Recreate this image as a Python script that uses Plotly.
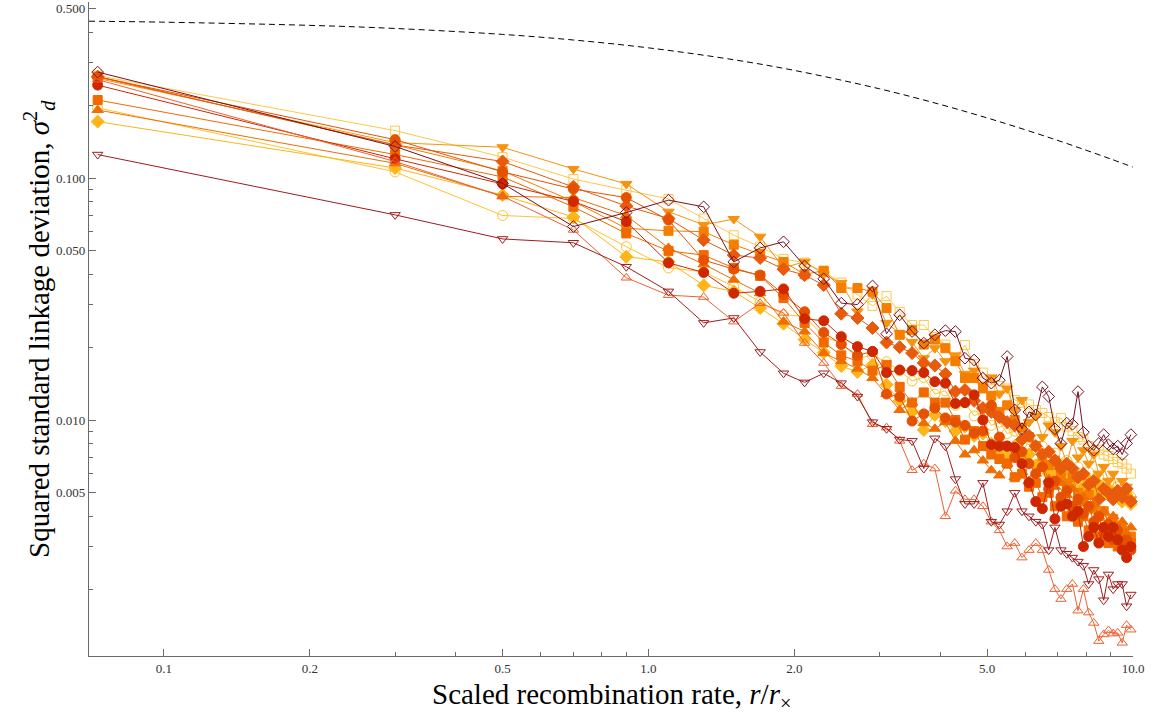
import plotly.graph_objects as go

# Scaled recombination rate values (x)
r_scaled = [0.073, 0.3, 0.5, 0.7, 0.9, 1.1, 1.3, 1.5, 1.7, 1.9, 2.1, 2.3, 2.5, 2.7, 2.9, 3.1,
            3.3, 3.5, 3.7, 3.9, 4.1, 4.3, 4.5, 4.7, 4.9, 5.1, 5.3, 5.5, 5.7, 5.9, 6.1, 6.3,
            6.5, 6.7, 6.9, 7.1, 7.3, 7.5, 7.7, 7.9, 8.1, 8.3, 8.5, 8.7, 8.9, 9.1, 9.3, 9.5, 9.7, 9.9]

open_square = [0.265, 0.157, 0.122, 0.099, 0.089, 0.082, 0.068, 0.058, 0.052, 0.0463, 0.0447, 0.041, 0.037, 0.033, 0.0296, 0.0325,
               0.028, 0.0247, 0.0247, 0.0220, 0.0205, 0.0179, 0.0204, 0.0170, 0.0157, 0.0146, 0.0138, 0.0135, 0.0121, 0.0118, 0.0116, 0.0110,
               0.0107, 0.0103, 0.0098, 0.0102, 0.0094, 0.0090, 0.0085, 0.0083, 0.0078, 0.0075, 0.0075, 0.0072, 0.0071, 0.0069, 0.0067, 0.0066, 0.0063, 0.0060]
open_circle = [0.195, 0.106, 0.070, 0.068, 0.052, 0.0425, 0.041, 0.0356, 0.0308, 0.0272, 0.0268, 0.0221, 0.0208, 0.0180, 0.0185, 0.0174,
               0.0160, 0.0145, 0.0150, 0.0128, 0.0132, 0.0115, 0.0118, 0.0104, 0.0108, 0.0095, 0.0098, 0.0088, 0.0090, 0.0080, 0.0083, 0.0076,
               0.0078, 0.0071, 0.0073, 0.0066, 0.0068, 0.0062, 0.0064, 0.0059, 0.0061, 0.0056, 0.0058, 0.0054, 0.0055, 0.0051, 0.0053, 0.0049, 0.0051, 0.0048]
gold_diamond = [0.171, 0.110, 0.085, 0.069, 0.0473, 0.045, 0.036, 0.034, 0.029, 0.025, 0.0215, 0.0190, 0.0167, 0.0158, 0.0169, 0.0140,
                0.0120, 0.0108, 0.0091, 0.0105, 0.0099, 0.0090, 0.0094, 0.0086, 0.0088, 0.0080, 0.0075, 0.0071, 0.0078, 0.0068, 0.0072, 0.0065,
                0.0066, 0.0060, 0.0063, 0.0057, 0.0062, 0.0055, 0.0058, 0.0053, 0.0056, 0.0051, 0.0054, 0.0049, 0.0052, 0.0048, 0.0050, 0.0046, 0.0049, 0.0045]
tridown_filled = [0.258, 0.140, 0.134, 0.109, 0.0945, 0.0726, 0.064, 0.0677, 0.0572, 0.0425, 0.0451, 0.040, 0.0368, 0.0281, 0.0330, 0.0252,
                  0.0228, 0.0210, 0.0180, 0.0198, 0.0175, 0.0185, 0.0155, 0.0160, 0.0140, 0.0150, 0.0128, 0.0135, 0.0110, 0.0121, 0.0098, 0.0104,
                  0.0085, 0.0095, 0.0089, 0.0078, 0.0066, 0.0082, 0.0070, 0.0075, 0.0066, 0.0072, 0.0060, 0.0064, 0.0056, 0.0060, 0.0051, 0.0056, 0.0053, 0.0047]
square_upper = [0.262, 0.137, 0.107, 0.080, 0.062, 0.0605, 0.060, 0.053, 0.0485, 0.045, 0.040, 0.0414, 0.0351, 0.0351, 0.0339, 0.0290,
                0.0225, 0.0235, 0.0205, 0.0215, 0.0198, 0.0175, 0.0149, 0.0149, 0.0135, 0.0126, 0.0108, 0.0115, 0.0100, 0.0093, 0.0085, 0.0078,
                0.0071, 0.0065, 0.0068, 0.0060, 0.0055, 0.0058, 0.0050, 0.0046, 0.0049, 0.0043, 0.0040, 0.0042, 0.0037, 0.0039, 0.0034, 0.0036, 0.0032, 0.0033]
diamond_orange = [0.262, 0.137, 0.117, 0.092, 0.0766, 0.068, 0.0554, 0.048, 0.0467, 0.042, 0.0397, 0.0361, 0.0275, 0.0264, 0.024, 0.0209,
                  0.020, 0.0189, 0.0172, 0.0168, 0.0155, 0.0131, 0.0133, 0.0120, 0.0112, 0.0108, 0.0103, 0.0098, 0.0095, 0.0083, 0.0086, 0.0078,
                  0.0072, 0.0074, 0.0068, 0.0063, 0.0066, 0.0063, 0.0058, 0.0060, 0.0054, 0.0056, 0.0047, 0.0052, 0.0050, 0.0047, 0.0051, 0.0048, 0.0052, 0.0046]
triup_filled = [0.191, 0.115, 0.084, 0.083, 0.070, 0.0514, 0.044, 0.038, 0.0334, 0.0255, 0.0232, 0.0189, 0.0175, 0.0163, 0.0149, 0.0128,
                0.0110, 0.0118, 0.0097, 0.0092, 0.0098, 0.0082, 0.0072, 0.0075, 0.0068, 0.0062, 0.0059, 0.0066, 0.0058, 0.0061, 0.0056, 0.0060,
                0.0065, 0.0057, 0.0053, 0.0055, 0.0049, 0.0052, 0.0046, 0.0048, 0.0043, 0.0045, 0.0040, 0.0042, 0.0038, 0.0040, 0.0036, 0.0038, 0.0034, 0.0036]
square_lower = [0.210, 0.125, 0.101, 0.076, 0.059, 0.050, 0.048, 0.0425, 0.0394, 0.0319, 0.0252, 0.0209, 0.0185, 0.0175, 0.0160, 0.0169,
                0.0137, 0.0118, 0.0130, 0.0118, 0.0118, 0.0100, 0.0083, 0.0090, 0.0078, 0.0072, 0.0069, 0.0066, 0.0058, 0.0060, 0.0053, 0.0055,
                0.0048, 0.0050, 0.0044, 0.0046, 0.0040, 0.0043, 0.0038, 0.0040, 0.0035, 0.0037, 0.0033, 0.0035, 0.0031, 0.0034, 0.0030, 0.0032, 0.0029, 0.0031]
orange_circle = [0.262, 0.144, 0.106, 0.090, 0.083, 0.067, 0.0458, 0.042, 0.0397, 0.033, 0.028, 0.023, 0.0205, 0.0185, 0.0192, 0.0128,
                 0.0125, 0.0099, 0.0106, 0.0112, 0.0102, 0.0098, 0.0095, 0.0088, 0.0090, 0.0115, 0.0085, 0.0078, 0.0070, 0.0074, 0.0066, 0.0060,
                 0.0064, 0.0052, 0.0056, 0.0048, 0.0051, 0.0044, 0.0047, 0.0041, 0.0044, 0.0038, 0.0040, 0.0034, 0.0037, 0.0032, 0.0035, 0.0030, 0.0032, 0.0029]
red_circle = [0.242, 0.120, 0.0945, 0.080, 0.066, 0.0446, 0.0407, 0.0334, 0.0340, 0.0348, 0.0262, 0.0257, 0.0221, 0.0201, 0.0192, 0.0157,
              0.0161, 0.0160, 0.0157, 0.0144, 0.0142, 0.0117, 0.0118, 0.0127, 0.0100, 0.0079, 0.0078, 0.0078, 0.0077, 0.0066, 0.0055, 0.0046,
              0.0043, 0.0055, 0.0039, 0.0044, 0.0045, 0.0040, 0.0042, 0.0030, 0.0033, 0.0036, 0.0031, 0.0036, 0.0033, 0.0036, 0.0032, 0.0029, 0.0027, 0.0030]
open_triup = [0.255, 0.117, 0.084, 0.061, 0.0387, 0.0328, 0.0322, 0.0255, 0.0304, 0.0277, 0.0208, 0.0172, 0.0138, 0.0128, 0.0096, 0.0093,
              0.0082, 0.0062, 0.0066, 0.0063, 0.0040, 0.0051, 0.0047, 0.0047, 0.0044, 0.0038, 0.0035, 0.0030, 0.0031, 0.0027, 0.0029, 0.0031,
              0.0029, 0.0024, 0.0020, 0.00182, 0.0020, 0.0021, 0.00163, 0.0020, 0.0016, 0.00145, 0.00122, 0.0013, 0.00135, 0.00131, 0.00132, 0.0012, 0.00142, 0.00136]
open_tridown = [0.125, 0.0704, 0.056, 0.054, 0.043, 0.034, 0.0252, 0.0264, 0.0191, 0.0156, 0.0143, 0.0156, 0.0142, 0.0125, 0.0098, 0.0092,
                0.0083, 0.0082, 0.0063, 0.0084, 0.0078, 0.0057, 0.0045, 0.0045, 0.0055, 0.0038, 0.0037, 0.0042, 0.0050, 0.0042, 0.0040, 0.0038,
                0.0037, 0.0029, 0.0036, 0.0029, 0.0028, 0.0027, 0.0026, 0.0025, 0.0021, 0.0024, 0.0022, 0.0018, 0.0023, 0.0020, 0.0021, 0.0021, 0.0017, 0.0019]
open_diamond = [0.274, 0.135, 0.095, 0.063, 0.072, 0.081, 0.076, 0.045, 0.0514, 0.0545, 0.0433, 0.0383, 0.0304, 0.030, 0.0358, 0.0227,
                0.0272, 0.0232, 0.0208, 0.0225, 0.0234, 0.0232, 0.0180, 0.0177, 0.0149, 0.0142, 0.0146, 0.0183, 0.0110, 0.0092, 0.0108, 0.0105,
                0.0137, 0.0125, 0.0092, 0.0080, 0.0097, 0.0096, 0.0131, 0.0089, 0.0078, 0.0075, 0.0080, 0.0087, 0.0079, 0.0076, 0.0078, 0.0072, 0.0080, 0.0087]

# dashed reference curve
dash_r = [0.07, 0.1, 0.2, 0.3, 0.5, 0.7, 1.0, 1.5, 2.0, 3.0, 4.0, 5.0, 6.0, 7.0, 8.0, 9.0, 10.0]
dash_sigma = [0.4446, 0.4405, 0.4273, 0.4149, 0.3921, 0.3718, 0.3450, 0.3081, 0.2784, 0.2336,
              0.2014, 0.1771, 0.1581, 0.1429, 0.1303, 0.1198, 0.1109]

series_values = [open_square, open_circle, gold_diamond, tridown_filled, square_upper, diamond_orange,
                 triup_filled, square_lower, orange_circle, red_circle, open_triup, open_tridown, open_diamond]
series_symbols = ["square-open", "circle-open", "diamond", "triangle-down", "square", "diamond",
                  "triangle-up", "square", "circle", "circle", "triangle-up-open", "triangle-down-open", "diamond-open"]
series_colors = ["#ffc74a", "#ffc22e", "#ffb418", "#f7930f", "#f57d00", "#e85a0c",
                 "#f06e00", "#f06a00", "#e65100", "#cf2800", "#ef6030", "#a01c1c", "#7a1020"]
series_sizes = [9, 10, 10, 10, 9, 10, 10, 9, 10, 10, 9, 9, 9]

x_major = [0.1, 0.2, 0.5, 1, 2, 5, 10]
x_major_text = ["0.1", "0.2", "0.5", "1.0", "2.0", "5.0", "10.0"]
x_minor = [0.3, 0.4, 0.6, 0.7, 0.8, 0.9, 3, 4, 6, 7, 8, 9]
y_major = [0.005, 0.01, 0.05, 0.1, 0.5]
y_major_text = ["0.005", "0.010", "0.050", "0.100", "0.500"]
y_minor = [0.002, 0.003, 0.004, 0.006, 0.007, 0.008, 0.009, 0.02, 0.03, 0.04,
           0.06, 0.07, 0.08, 0.09, 0.2, 0.3, 0.4]

fig = go.Figure()
fig.add_trace(go.Scatter(x=dash_r, y=dash_sigma, mode="lines", line_shape="spline",
                         line=dict(color="black", width=1, dash="6px,4px"), hoverinfo="skip"))

for vals, sym, col, sz in zip(series_values, series_symbols, series_colors, series_sizes):
    fig.add_trace(go.Scatter(
        x=r_scaled, y=vals, mode="lines+markers", cliponaxis=False,
        line=dict(color=col, width=1),
        marker=dict(symbol=sym, size=sz, color=col, line=dict(color=col, width=1)),
    ))

axis_font = dict(family="Liberation Serif", size=13, color="#333333")
title_font = dict(family="Liberation Serif", size=29, color="black")
fig.update_layout(
    width=1170, height=721,
    margin=dict(l=89, r=37, t=2, b=65),
    paper_bgcolor="white", plot_bgcolor="white",
    showlegend=False,
    xaxis=dict(type="log", range=[-1.1546, 1.0], showline=True, linecolor="#6a6a6a", linewidth=1.3,
               ticks="inside", ticklen=7, tickwidth=1, tickcolor="#6a6a6a",
               tickmode="array", tickvals=x_major, ticktext=x_major_text, tickfont=axis_font,
               showgrid=False, zeroline=False,
               minor=dict(tickmode="array", tickvals=x_minor, ticks="inside", ticklen=4,
                          tickwidth=1, tickcolor="#6a6a6a", showgrid=False)),
    yaxis=dict(type="log", range=[-2.9752, -0.2727], showline=True, linecolor="#6a6a6a", linewidth=1.3,
               ticks="inside", ticklen=7, tickwidth=1, tickcolor="#6a6a6a",
               tickmode="array", tickvals=y_major, ticktext=y_major_text, tickfont=axis_font,
               showgrid=False, zeroline=False,
               minor=dict(tickmode="array", tickvals=y_minor, ticks="inside", ticklen=4,
                          tickwidth=1, tickcolor="#6a6a6a", showgrid=False)),
    annotations=[
        dict(text="Scaled recombination rate, <i>r</i>/<i>r</i><sub><span style='color:black'>×</span></sub>",
             xref="paper", yref="paper",
             x=0.5, y=0, yshift=-40, xanchor="center", yanchor="middle", showarrow=False,
             font=title_font),
        dict(text="Squared standard linkage deviation, <i>σ</i><sup>2</sup><sub><i>d</i></sub>",
             xref="paper", yref="paper", x=0, y=0.5, xshift=-50, textangle=-90,
             xanchor="center", yanchor="middle", showarrow=False,
             font=title_font),
    ],
)

fig.write_html("out.html")
